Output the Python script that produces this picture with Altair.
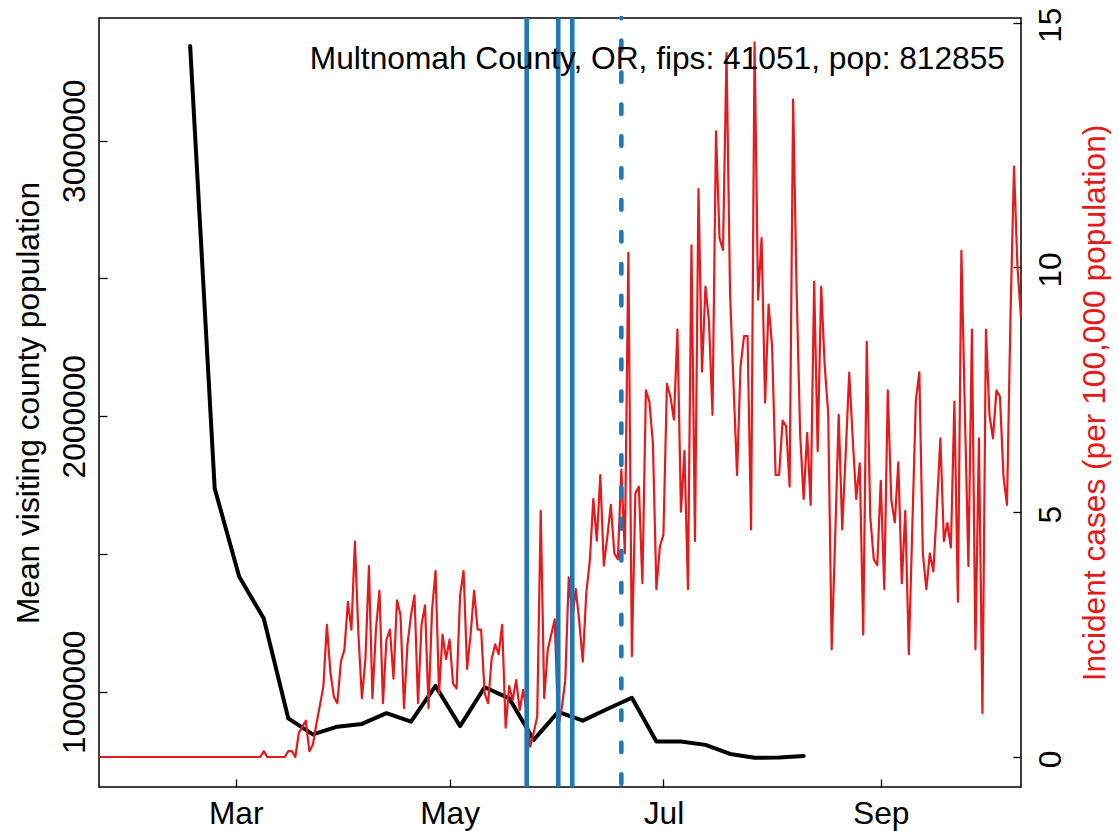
import altair as alt
import pandas as pd

FONT = "Liberation Sans"
FS = 31.7
RED = "#E41A1C"
BLUE = "#1F78B4"

# ---------------- data ----------------
case_first_date = "2020-01-22"
case_values = [
    0, 0, 0, 0, 0, 0, 0, 0, 0, 0,
    0, 0, 0, 0, 0, 0, 0, 0, 0, 0,
    0, 0, 0, 0, 0, 0, 0, 0, 0, 0,
    0, 0, 0, 0, 0, 0, 0, 0, 0, 0,
    0, 0, 0, 0, 0, 0, 0, 0.12, 0, 0,
    0, 0, 0, 0, 0.12, 0.12, 0, 0.49, 0.62, 0.74,
    0.12, 0.25, 0.67, 1.05, 1.44, 2.70, 1.74, 1.23, 1.10, 1.95,
    2.19, 3.17, 2.6, 4.4, 2.5, 1.2, 2.0, 3.9, 1.2, 2.6,
    3.4, 1.1, 2.4, 2.6, 1.6, 3.2, 2.9, 1.0, 2.3, 2.9,
    3.3, 1.1, 2.7, 3.1, 1.0, 3.0, 3.8, 1.3, 2.5, 2.0,
    2.4, 1.5, 1.4, 3.3, 3.8, 1.8, 2.5, 3.4, 2.6, 2.6,
    1.3, 1.1, 2.0, 2.3, 2.1, 2.7, 0.6, 1.45, 1.16, 1.57,
    0.96, 1.37, 0.9, 0.21, 0.5, 0.82, 5.03, 1.2, 2.19, 2.5,
    2.81, 0.6, 1.0, 1.57, 3.67, 2.8, 3.43, 2.77, 1.95, 3.35,
    4.0, 5.27, 4.42, 5.76, 3.91, 4.5, 5.15, 4.16, 4.04, 5.87,
    4.16, 10.3, 2.06, 5.39, 5.52, 3.55, 7.49, 7.26, 6.41, 3.43,
    4.30, 4.54, 7.62, 7.36, 6.89, 8.73, 5.01, 6.25, 3.43, 10.45,
    4.41, 11.6, 7.87, 9.61, 8.9, 6.99, 12.78, 10.6, 10.36, 14.38,
    9.5, 7.6, 5.76, 7.97, 8.60, 8.60, 4.65, 14.6, 9.34, 10.6,
    7.24, 9.24, 8.39, 5.76, 5.76, 6.87, 6.76, 5.52, 13.43, 9.5,
    6.6, 5.27, 6.62, 5.15, 9.71, 6.25, 9.61, 8.0, 7.02, 2.2,
    4.5, 6.99, 4.65, 6.2, 7.85, 6.5, 5.27, 6.0, 2.5, 8.48,
    4.91, 4.04, 3.92, 5.64, 3.43, 7.49, 5.25, 4.79, 6.02, 3.55,
    5.03, 2.1, 4.7, 7.28, 7.86, 4.16, 3.43, 4.16, 3.79, 5.1,
    6.51, 4.41, 4.78, 4.28, 7.26, 3.17, 10.34, 7.0, 3.9, 8.73,
    2.2, 6.51, 0.9, 8.73, 6.99, 6.51, 7.49, 7.36, 5.73, 5.15,
    9.0, 12.06, 10.0, 8.97,
]

visit_dates = [
    "2020-02-17", "2020-02-24", "2020-03-02", "2020-03-09", "2020-03-16",
    "2020-03-23", "2020-03-30", "2020-04-06", "2020-04-13", "2020-04-20",
    "2020-04-27", "2020-05-04", "2020-05-11", "2020-05-18", "2020-05-25",
    "2020-06-01", "2020-06-08", "2020-06-15", "2020-06-22", "2020-06-29",
    "2020-07-06", "2020-07-13", "2020-07-20", "2020-07-27", "2020-08-03",
    "2020-08-10",
]
visit_values = [
    3344000, 1738000, 1417000, 1266000, 903000,
    845000, 873000, 883000, 922000, 891000,
    1021000, 875000, 1016000, 976000, 825000,
    927000, 895000, 937000, 978000, 819000,
    819000, 807000, 774000, 760000, 761000,
    767000,
]

solid_event_dates = ["2020-05-23", "2020-06-01", "2020-06-05"]
dashed_event_dates = ["2020-06-19"]

x_tick_months = [3, 5, 7, 9]
x_tick_labels = ["Mar", "May", "Jul", "Sep"]
left_tick_values = [1000000, 1500000, 2000000, 2500000, 3000000]
right_tick_values = [0, 5, 10, 15]

annotation = "Multnomah County, OR, fips: 41051, pop: 812855"
left_title = "Mean visiting county population"
right_title = "Incident cases (per 100,000 population)"

# ---------------- tables ----------------
case_dates = pd.date_range(case_first_date, periods=len(case_values), freq="D").strftime("%Y-%m-%d").tolist()
cases_df = pd.DataFrame({"date": case_dates, "cases": case_values})
visit_df = pd.DataFrame({"date": visit_dates, "visitors": visit_values})
solid_df = pd.DataFrame({"date": solid_event_dates})
dashed_df = pd.DataFrame({"date": dashed_event_dates})
text_df = pd.DataFrame({"label": [annotation]})

W, H = 922, 769

month_names = [""] * 12
for m, lab in zip(x_tick_months, x_tick_labels):
    month_names[m - 1] = lab
month_expr = "[" + ", ".join("'%s'" % s for s in month_names) + "][utcmonth(datum.value)]"

x_scale = alt.Scale(
    type="utc",
    domain=[alt.DateTime(year=2020, month=1, date=22, utc=True),
            alt.DateTime(year=2020, month=10, date=11, utc=True)],
    nice=False,
)

x_axis = alt.Axis(
    orient="bottom",
    values=[alt.DateTime(year=2020, month=m, date=1, utc=True) for m in x_tick_months],
    labelExpr=month_expr,
    offset=-8, tickSize=8, domain=False, grid=False,
    labelAngle=0, labelAlign="center", labelBaseline="alphabetic", labelPadding=36,
    title=None,
)

left_axis = alt.Axis(
    orient="left",
    values=left_tick_values,
    labelExpr="datum.value % 1000000 == 0 ? format(datum.value, 'd') : ''",
    offset=-8, tickSize=8, domain=False, grid=False,
    labelAngle=270, labelAlign="center", labelBaseline="alphabetic", labelPadding=14.5,
    title=left_title, titleAngle=270, titleAlign="center", titleBaseline="alphabetic",
    titleX=-69, titleY=H / 2,
)

right_axis = alt.Axis(
    orient="right",
    values=right_tick_values, format="d",
    offset=-8, tickSize=8, domain=False, grid=False,
    labelAngle=270, labelAlign="center", labelBaseline="alphabetic", labelPadding=39,
    labelOffset=2,
    title=right_title, titleAngle=270, titleAlign="center", titleBaseline="alphabetic",
    titleX=91.5, titleY=H / 2, titleColor=RED,
)

X = alt.X("date:T", scale=x_scale, axis=x_axis)

black = alt.Chart(visit_df).mark_line(
    color="black", strokeWidth=4, strokeJoin="round", strokeCap="round"
).encode(
    x=X,
    y=alt.Y("visitors:Q", scale=alt.Scale(domain=[654100, 3445400], nice=False, zero=False), axis=left_axis),
)

red = alt.Chart(cases_df).mark_line(
    color=RED, strokeWidth=2.2, strokeJoin="round"
).encode(
    x=X,
    y=alt.Y("cases:Q", scale=alt.Scale(domain=[-0.613, 15.096], nice=False, zero=False), axis=right_axis),
)

solid = alt.Chart(solid_df).mark_rule(color=BLUE, strokeWidth=4.6).encode(
    x=X, y=alt.value(0), y2=alt.value(H),
)

dashed = alt.Chart(dashed_df).mark_rule(
    color=BLUE, strokeWidth=4.6, strokeDash=[9.5, 22.4], strokeDashOffset=9.25, strokeCap="round"
).encode(
    x=X, y=alt.value(0), y2=alt.value(H),
)

label = alt.Chart(text_df).mark_text(
    align="right", baseline="alphabetic", font=FONT, fontSize=FS, color="black"
).encode(
    text="label:N", x=alt.value(906), y=alt.value(51.3),
)

chart = alt.layer(black, red, solid, dashed, label).resolve_scale(y="independent").properties(
    width=W, height=H,
    autosize=alt.AutoSizeParams(type="none"),
    padding={"left": 91, "top": 10, "right": 90, "bottom": 44},
).configure_view(
    stroke="black", strokeWidth=1.5
).configure_axis(
    labelFont=FONT, titleFont=FONT, labelFontSize=FS, titleFontSize=FS,
    labelColor="black", titleColor="black", tickColor="black", tickWidth=1.3,
    labelFlush=False, labelOverlap=False, titleFontWeight="normal",
)

chart.save("out.html", embed_options={"renderer": "svg", "actions": False})
